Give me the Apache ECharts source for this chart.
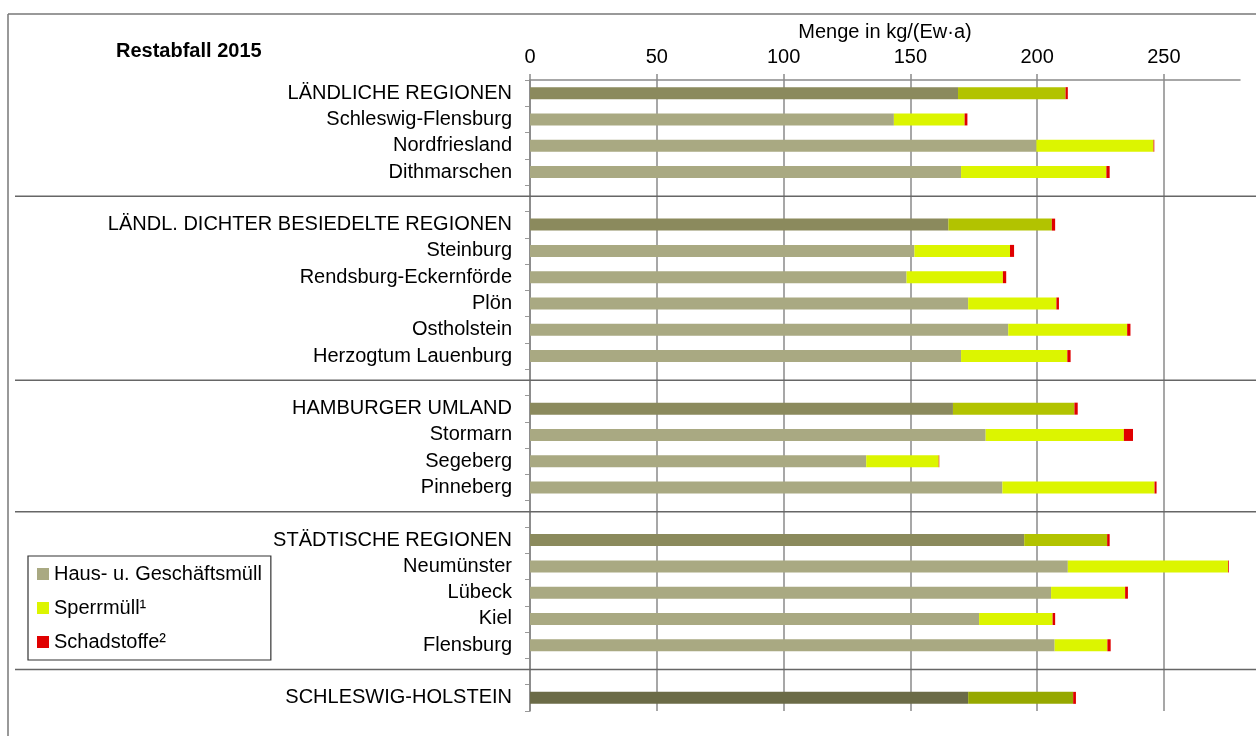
<!DOCTYPE html>
<html>
<head>
<meta charset="utf-8">
<script src="https://cdn.jsdelivr.net/npm/echarts@6/dist/echarts.min.js"></script>
<style>
  html, body { margin: 0; padding: 0; background: #fff; }
  #chart { width: 1256px; height: 736px; }
</style>
</head>
<body>
<div id="chart"></div>
<script>
// ---- data ----
const categories = [
  'LÄNDLICHE REGIONEN', 'Schleswig-Flensburg', 'Nordfriesland', 'Dithmarschen', '',
  'LÄNDL. DICHTER BESIEDELTE REGIONEN', 'Steinburg', 'Rendsburg-Eckernförde', 'Plön', 'Ostholstein', 'Herzogtum Lauenburg', '',
  'HAMBURGER UMLAND', 'Stormarn', 'Segeberg', 'Pinneberg', '',
  'STÄDTISCHE REGIONEN', 'Neumünster', 'Lübeck', 'Kiel', 'Flensburg', '',
  'SCHLESWIG-HOLSTEIN'
];
// 0 = district, 1 = region group, 2 = state total, null = spacer row
const rowLevel = [1,0,0,0,null, 1,0,0,0,0,0,null, 1,0,0,0,null, 1,0,0,0,0,null, 2];
const seriesNames = ['Haus- u. Geschäftsmüll', 'Sperrmüll¹', 'Schadstoffe²'];
const haus   = [168.8,143.5,199.7,170.0,null, 165.0,151.6,148.5,172.8,188.6,170.0,null, 166.8,179.7,132.6,186.3,null, 194.9,212.1,205.5,177.1,206.9,null, 172.8];
const sperr  = [42.4,27.9,46.2,57.3,null, 40.8,37.7,38.0,34.8,46.9,41.9,null, 47.9,54.5,28.6,60.0,null, 32.7,63.2,29.2,29.0,20.8,null, 41.4];
const schad  = [0.9,1.1,0.3,1.3,null, 1.3,1.6,1.3,1.0,1.3,1.3,null, 1.3,3.6,0.2,0.8,null, 1.0,0.3,1.1,1.0,1.3,null, 1.1];
const xTicks = [0, 50, 100, 150, 200, 250];
const xMax = 280;
const gapRows = [4, 11, 16, 22];

// ---- styles ----
const FONT = "'Liberation Sans', Arial, sans-serif";
const palette = [
  ['#A9A982', '#8B8A5D', '#6B6B47'],
  ['#DCF500', '#B2C300', '#96A800'],
  ['#E00000', '#E00000', '#E00000']
];

function buildData(values, si) {
  return values.map((v, i) => {
    const lvl = rowLevel[i];
    if (v == null) return null;
    return { value: v, itemStyle: { color: palette[si][lvl] } };
  });
}

const valueSets = [haus, sperr, schad];
const barSeries = valueSets.map((vals, si) => ({
  name: seriesNames[si],
  type: 'bar',
  stack: 'total',
  barWidth: 12,
  z: 3,
  itemStyle: { color: palette[si][0] },
  data: buildData(vals, si),
  silent: true,
  markLine: si === 0 ? {
    silent: true,
    symbol: 'none',
    z: 1,
    label: { show: false },
    lineStyle: { color: '#8a8a8a', width: 1.5, type: 'solid' },
    data: xTicks.map(v => ({ xAxis: v }))
  } : undefined
}));

const separatorSeries = {
  type: 'custom',
  silent: true,
  clip: false,
  z: 4,
  data: gapRows.map(r => [0, r]),
  renderItem: function (params, api) {
    const y = api.coord([0, api.value(1)])[1] - 2;
    return {
      type: 'line',
      shape: { x1: 15, y1: y, x2: 1256, y2: y },
      style: { stroke: '#666', lineWidth: 1.5 }
    };
  }
};

const chart = echarts.init(document.getElementById('chart'), null, { renderer: 'canvas' });
chart.setOption({
  animation: false,
  backgroundColor: '#fff',
  textStyle: { fontFamily: FONT },
  title: {
    text: 'Restabfall 2015',
    left: 116, top: 41, padding: 0,
    textStyle: { fontFamily: FONT, fontSize: 20, fontWeight: 'bold', color: '#000' }
  },
  graphic: [
    { type: 'line', shape: { x1: 8, y1: 14, x2: 1256, y2: 14 }, style: { stroke: '#777', lineWidth: 1.5 }, silent: true },
    { type: 'line', shape: { x1: 8, y1: 14, x2: 8, y2: 736 }, style: { stroke: '#777', lineWidth: 1.5 }, silent: true }
  ],
  legend: {
    data: seriesNames,
    orient: 'vertical',
    left: 28, top: 556,
    padding: [8, 9, 8, 9],
    itemWidth: 12, itemHeight: 12, itemGap: 14,
    icon: 'rect',
    borderColor: '#333', borderWidth: 1.2,
    selectedMode: false,
    textStyle: { fontFamily: FONT, fontSize: 20, color: '#000', lineHeight: 20 }
  },
  grid: { left: 530, right: 16, top: 80, bottom: 25 },
  xAxis: {
    type: 'value',
    position: 'top',
    min: 0, max: xMax,
    name: 'Menge in kg/(Ew·a)',
    nameLocation: 'middle',
    nameGap: 31,
    nameTextStyle: { fontFamily: FONT, fontSize: 20, color: '#000' },
    axisLine: { show: true, lineStyle: { color: '#8a8a8a', width: 1.5 } },
    axisTick: { show: true, length: 6, customValues: xTicks, lineStyle: { color: '#8a8a8a', width: 1.5 } },
    axisLabel: { customValues: xTicks, fontFamily: FONT, fontSize: 20, color: '#000', margin: 13 },
    splitLine: { show: false }
  },
  yAxis: {
    type: 'category',
    inverse: true,
    data: categories,
    axisLine: { show: true, lineStyle: { color: '#777', width: 1.5 } },
    axisTick: { show: true, length: 5, alignWithLabel: false, lineStyle: { color: '#999' } },
    axisLabel: { fontFamily: FONT, fontSize: 20, color: '#000', margin: 18, interval: 0 },
    splitLine: { show: false }
  },
  series: [...barSeries, separatorSeries]
});
</script>
</body>
</html>
